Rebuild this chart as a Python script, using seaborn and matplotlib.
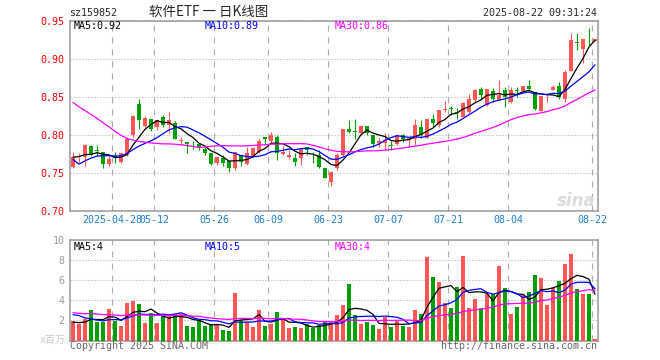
import numpy as np
import pandas as pd
import matplotlib
matplotlib.use('Agg')
import matplotlib.pyplot as plt
import seaborn as sns

# sz159852 软件ETF 日K, 88 trading days 2025-04-17 .. 2025-08-22
open_ = [0.7588, 0.7710, 0.7710, 0.7860, 0.7800, 0.7776, 0.7625, 0.7720, 0.7653, 0.7741,
         0.8004, 0.8412, 0.8123, 0.8210, 0.8105, 0.8237, 0.8136, 0.8158, 0.7925, 0.7912,
         0.7885, 0.7882, 0.7820, 0.7772, 0.7640, 0.7698, 0.7662, 0.7566, 0.7741, 0.7618,
         0.7719, 0.7776, 0.7974, 0.7917, 0.7982, 0.7754, 0.7711, 0.7698, 0.7698, 0.7851,
         0.7730, 0.7741, 0.7566, 0.7390, 0.7566, 0.7741, 0.8083, 0.8048, 0.8026, 0.8123,
         0.8004, 0.7895, 0.7895, 0.7864, 0.7886, 0.7996, 0.7939, 0.7947, 0.8105, 0.7960,
         0.8210, 0.8136, 0.8330, 0.8348, 0.8300, 0.8245, 0.8311, 0.8464, 0.8613, 0.8398,
         0.8574, 0.8464, 0.8596, 0.8442, 0.8588, 0.8574, 0.8648, 0.8561, 0.8324, 0.8530,
         0.8587, 0.8648, 0.8473, 0.8837, 0.9215, 0.9131, 0.9262, 0.9232]
high = [0.7785, 0.7760, 0.7880, 0.7870, 0.7870, 0.7780, 0.7740, 0.7780, 0.7770, 0.7982,
        0.8265, 0.8478, 0.8255, 0.8210, 0.8205, 0.8267, 0.8311, 0.8180, 0.7974, 0.7912,
        0.7917, 0.7882, 0.7850, 0.7772, 0.7710, 0.7741, 0.7662, 0.7776, 0.7741, 0.7842,
        0.7842, 0.7952, 0.7974, 0.8048, 0.7996, 0.7860, 0.7807, 0.7763, 0.7829, 0.7851,
        0.7785, 0.7807, 0.7566, 0.7520, 0.7763, 0.8079, 0.8202, 0.8215, 0.8136, 0.8123,
        0.8004, 0.7960, 0.8026, 0.7925, 0.8004, 0.8013, 0.7982, 0.8210, 0.8193, 0.8210,
        0.8280, 0.8325, 0.8450, 0.8385, 0.8355, 0.8442, 0.8543, 0.8605, 0.8631, 0.8605,
        0.8618, 0.8727, 0.8631, 0.8631, 0.8631, 0.8648, 0.8727, 0.8561, 0.8521, 0.8552,
        0.8662, 0.8705, 0.8859, 0.9341, 0.9341, 0.9262, 0.9407, 0.9262]
low = [0.7566, 0.7650, 0.7596, 0.7730, 0.7720, 0.7575, 0.7600, 0.7640, 0.7640, 0.7720,
       0.7980, 0.8080, 0.8105, 0.8057, 0.8070, 0.8105, 0.8026, 0.7950, 0.7873, 0.7772,
       0.7816, 0.7807, 0.7740, 0.7610, 0.7614, 0.7597, 0.7522, 0.7544, 0.7597, 0.7610,
       0.7710, 0.7763, 0.7890, 0.7895, 0.7675, 0.7740, 0.7684, 0.7597, 0.7610, 0.7741,
       0.7640, 0.7566, 0.7440, 0.7338, 0.7544, 0.7720, 0.8035, 0.7952, 0.8018, 0.8004,
       0.7842, 0.7842, 0.7807, 0.7807, 0.7873, 0.7904, 0.7860, 0.7873, 0.7960, 0.7960,
       0.8105, 0.8113, 0.8311, 0.8267, 0.8210, 0.8245, 0.8289, 0.8429, 0.8473, 0.8385,
       0.8442, 0.8464, 0.8376, 0.8420, 0.8508, 0.8561, 0.8574, 0.8333, 0.8324, 0.8442,
       0.8587, 0.8473, 0.8442, 0.8837, 0.9122, 0.8947, 0.9180, 0.9232]
close = [0.7719, 0.7730, 0.7873, 0.7740, 0.7790, 0.7618, 0.7689, 0.7700, 0.7763, 0.7952,
         0.8254, 0.8193, 0.8224, 0.8080, 0.8202, 0.8132, 0.8202, 0.7952, 0.7932, 0.7882,
         0.7878, 0.7829, 0.7763, 0.7623, 0.7710, 0.7640, 0.7566, 0.7776, 0.7653, 0.7763,
         0.7829, 0.7925, 0.7952, 0.8004, 0.7763, 0.7785, 0.7741, 0.7653, 0.7829, 0.7807,
         0.7720, 0.7588, 0.7443, 0.7518, 0.7741, 0.8079, 0.8048, 0.8044, 0.8123, 0.8035,
         0.7886, 0.7925, 0.7939, 0.7860, 0.7996, 0.7952, 0.7961, 0.8136, 0.8004, 0.8210,
         0.8158, 0.8325, 0.8335, 0.8344, 0.8296, 0.8420, 0.8473, 0.8596, 0.8530, 0.8605,
         0.8473, 0.8530, 0.8508, 0.8587, 0.8585, 0.8648, 0.8613, 0.8346, 0.8521, 0.8532,
         0.8631, 0.8499, 0.8824, 0.9245, 0.9210, 0.9262, 0.9258, 0.9262]
volume = [1.9, 1.6, 2.17, 3.0, 1.8, 1.8, 3.1, 1.93, 1.4, 3.7,
          3.9, 3.6, 1.73, 2.73, 1.73, 2.43, 2.43, 2.63, 2.67, 1.4,
          1.33, 2.0, 1.43, 1.6, 1.6, 1.0, 0.9, 4.7, 2.0, 1.83,
          1.33, 3.0, 1.4, 1.6, 2.8, 2.1, 1.23, 1.33, 1.23, 1.6,
          1.27, 1.57, 1.83, 1.9, 2.5, 3.5, 5.6, 2.5, 1.6, 1.8,
          1.5, 1.1, 2.33, 1.3, 1.9, 1.4, 1.3, 3.0, 2.6, 8.3,
          6.3, 5.8, 3.7, 3.2, 5.3, 8.4, 3.2, 4.1, 3.2, 4.6,
          4.6, 7.4, 5.2, 2.6, 3.3, 4.5, 4.8, 6.5, 6.2, 3.5,
          5.2, 5.9, 7.6, 8.6, 5.1, 4.6, 4.6, 0.1]

# sessions before the window, only feed the moving averages
prev_close = [0.945, 0.935, 0.930, 0.925, 0.940, 0.930, 0.945, 0.935, 0.921,
              0.890, 0.870, 0.850, 0.840, 0.840,
              0.830, 0.820, 0.810, 0.815, 0.818, 0.821,
              0.833, 0.745, 0.738, 0.752, 0.757,
              0.768, 0.775, 0.772, 0.768]
prev_volume = [3.5, 3.2, 3.0, 2.8, 3.6, 3.1, 3.4, 2.9, 2.6, 3.3,
               2.9, 2.7, 2.5, 2.6, 2.4, 2.7, 2.5, 2.6, 2.5, 2.6,
               2.5, 4.5, 3.8, 3.2, 2.55, 1.9, 1.8, 1.75, 1.8]

tick_idx = [7, 14, 24, 33, 43, 53, 63, 73, 87]
tick_labels = ['2025-04-28', '05-12', '05-26', '06-09', '06-23', '07-07', '07-21', '08-04', '08-22']
price_ticks = [0.70, 0.75, 0.80, 0.85, 0.90, 0.95]
vol_ticks = [2, 4, 6, 8, 10]

RED = '#ff5555'
GREEN = '#00a000'
GRID = '#aaaaaa'
MONO = ['DejaVu Sans Mono', 'Noto Sans CJK SC']

sns.set_style('white')
plt.rcParams['font.family'] = MONO

n = len(close)
idx = np.arange(n)
o = np.array(open_); c = np.array(close)
up = c >= o
colors = np.where(up, RED, GREEN)

allc = pd.Series(prev_close + close)
allv = pd.Series(prev_volume + volume)
ma = pd.DataFrame({'x': idx})
for w in (5, 10, 30):
    ma['p%d' % w] = allc.rolling(w).mean().iloc[-n:].values
    ma['v%d' % w] = allv.rolling(w).mean().iloc[-n:].values

fig = plt.figure(figsize=(6.6, 3.6), dpi=100)
ax1 = fig.add_axes([70/660, 1-211.3/360, 528/660, 190.3/360])
ax2 = fig.add_axes([70/660, 1-340.5/360, 528/660, 100.5/360])

# candles
ax1.vlines(idx, low, high, colors=colors, lw=0.8, zorder=3)
ax1.bar(idx, np.maximum(np.abs(c - o), 0.0012), bottom=np.minimum(o, c),
        width=0.82, color=colors, linewidth=0, zorder=3)
ax2.bar(idx, volume, width=0.82, color=colors, linewidth=0, zorder=3)

for ax, pre in ((ax1, 'p'), (ax2, 'v')):
    sns.lineplot(data=ma, x='x', y=pre + '5', ax=ax, color='black', lw=0.9, zorder=4)
    sns.lineplot(data=ma, x='x', y=pre + '10', ax=ax, color='#0000ff', lw=0.9, zorder=4)
    sns.lineplot(data=ma, x='x', y=pre + '30', ax=ax, color='#ff00ff', lw=0.9, zorder=4)
    ax.set_xlim(-0.5, n - 0.5)
    ax.set_xticks([t - 0.5 for t in tick_idx])
    ax.set_xlabel('')
    ax.set_ylabel('')
    ax.grid(False)
    ax.xaxis.grid(True, ls=(0, (5.4, 5.4)), color=GRID, lw=0.8)
    ax.yaxis.grid(True, ls=(0, (0.9, 1.8)), color=GRID, lw=0.8)
    ax.set_axisbelow(True)
    for s in ax.spines.values():
        s.set_color('#999999')
        s.set_linewidth(1.1)
    ax.tick_params(length=0, labelsize=7.2, pad=4)

ax1.set_ylim(0.70, 0.95)
ax1.set_yticks(price_ticks)
ax1.set_yticklabels(['%.2f' % v for v in price_ticks], color='#ff0000')
ax1.set_xticklabels(tick_labels, color='#1a80d0')
ax1.tick_params(axis='x', pad=3)

ax2.set_ylim(0, 10)
ax2.set_yticks(vol_ticks)
ax2.set_yticklabels([str(v) for v in vol_ticks], color='#999999')
ax2.set_xticklabels([])

# header
fig.text(69.5/660, 1-13/360, 'sz159852', ha='left', va='center', fontsize=7.2)
fig.text(209/660, 1-11.5/360, '软件ETF 一 日K线图', ha='center', va='center',
         fontsize=9.7, family=['Noto Sans CJK SC'])
fig.text(597/660, 1-12.5/360, '2025-08-22 09:31:24', ha='right', va='center', fontsize=7.2)

# moving-average legends
fig.text(74/660, 1-26/360, 'MA5:0.92', ha='left', va='center', fontsize=7.2, color='black')
fig.text(205/660, 1-26/360, 'MA10:0.89', ha='left', va='center', fontsize=7.2, color='#0000ff')
fig.text(334.5/660, 1-26/360, 'MA30:0.86', ha='left', va='center', fontsize=7.2, color='#ff00ff')
fig.text(74/660, 1-247/360, 'MA5:4', ha='left', va='center', fontsize=7.2, color='black')
fig.text(205/660, 1-247/360, 'MA10:5', ha='left', va='center', fontsize=7.2, color='#0000ff')
fig.text(334.5/660, 1-247/360, 'MA30:4', ha='left', va='center', fontsize=7.2, color='#ff00ff')

# footer
fig.text(65.5/660, 1-340/360, 'x百万', ha='right', va='center', fontsize=7.2, color='#c8c8c8')
fig.text(70/660, 1-346/360, 'Copyright 2025 SINA.COM', ha='left', va='center',
         fontsize=7.2, color='#666666')
fig.text(597/660, 1-346/360, 'http://finance.sina.com.cn', ha='right', va='center',
         fontsize=7.2, color='#666666')
fig.text(576/660, 1-201/360, 'sina', ha='center', va='center', fontsize=12,
         style='italic', weight='bold', color='#dcdcdc', family=['DejaVu Sans'])

fig.savefig('out.png', dpi=100)
